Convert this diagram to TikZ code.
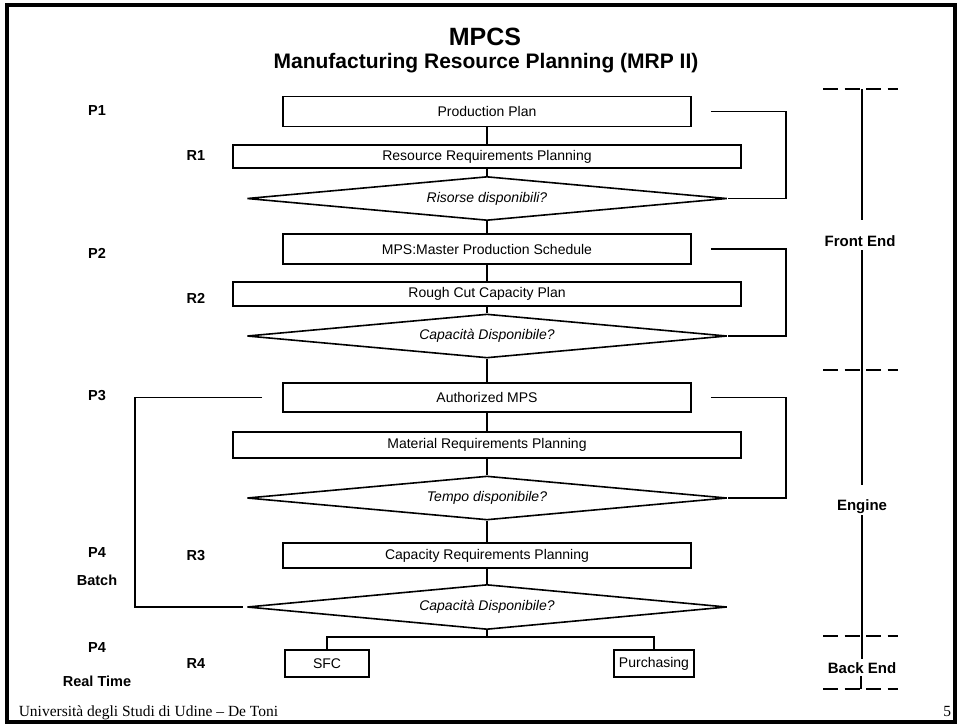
\documentclass[tikz,border=0pt]{standalone}
\usepackage{fontspec}
\setmainfont{Liberation Sans}
\newfontfamily\serifft{Liberation Serif}
\usetikzlibrary{shapes.geometric}
\begin{document}
\begin{tikzpicture}[x=1pt,y=-1pt,
  line width=1.6pt, line join=miter,
  proc/.style={draw, rectangle, inner sep=0pt, font=\fontsize{14}{16}\selectfont},
  wide/.style={proc, minimum width=508pt, minimum height=25pt},
  narrow/.style={proc, minimum width=408pt, minimum height=30pt},
  test/.style={draw, diamond, aspect=10.9, inner sep=0pt, minimum width=480pt,
    minimum height=44pt, font=\fontsize{14}{16}\selectfont\itshape},
  tag/.style={font=\fontsize{14.5}{16}\selectfont\bfseries},
  phase/.style={font=\fontsize{15}{17}\selectfont\bfseries},
  tick/.style={line width=2pt, dash pattern=on 15pt off 6.5pt},
  bar/.style={line width=1.5pt},
]
\useasboundingbox (0,0) rectangle (957,724);
% slide frame
\draw[line width=4pt] (7,4.5) rectangle (955,722);

% titles
\node[font=\fontsize{25}{28}\selectfont\bfseries] (title) at (485,37) {MPCS};
\node[font=\fontsize{21}{24}\selectfont\bfseries] (subtitle) at (486,63) {Manufacturing Resource Planning (MRP II)};

% main flow
\node[narrow] (pp) at (487,111.5) {Production Plan};
\node[wide, minimum height=23pt] (rrp) at (487,156.5) {Resource Requirements Planning};
\node[test] (d1) at (487,198.5) {Risorse disponibili?};
\node[narrow] (mps) at (487,249) {MPS:Master Production Schedule};
\node[wide, minimum height=24pt] (rccp) at (487,294) {Rough Cut Capacity Plan};
\node[test] (d2) at (487,336) {Capacità Disponibile?};
\node[narrow, minimum height=29pt] (amps) at (487,397.5) {Authorized MPS};
\node[wide, minimum height=26pt] (mrp) at (487,445) {Material Requirements Planning};
\node[test] (d3) at (487,498) {Tempo disponibile?};
\node[narrow, minimum height=25pt] (crp) at (487,555.5) {Capacity Requirements Planning};
\node[test, minimum height=45pt] (d4) at (487,607) {Capacità Disponibile?};
\node[proc, minimum width=84pt, minimum height=27pt] (sfc) at (327,663.5) {SFC};
\node[proc, minimum width=80pt, minimum height=27pt] (pur) at (654,663.5) {Purchasing};

\draw (pp) -- (rrp);
\draw (rrp) -- (d1);
\draw (d1) -- (mps);
\draw (mps) -- (rccp);
\draw (rccp) -- (d2);
\draw (d2) -- (amps);
\draw (amps) -- (mrp);
\draw (mrp) -- (d3);
\draw (d3) -- (crp);
\draw (crp) -- (d4);

% split towards shop floor and purchasing
\coordinate (br) at (487,637);
\draw (d4.south) -- (br);
\draw (sfc.north) |- (br) -| (pur.north);

% feedback loops
\coordinate (f1) at (786,111.5);
\coordinate (f2) at (786,249);
\coordinate (f3) at (786,397.5);
\coordinate (f4) at (135,397.5);
\draw ([xshift=19pt]pp.east) -- (f1) |- (d1.east);
\draw ([xshift=19pt]mps.east) -- (f2) |- (d2.east);
\draw ([xshift=19pt]amps.east) -- (f3) |- (d3.east);
\draw ([xshift=-20pt]amps.west) -- (f4) |- ([xshift=-3pt]d4.west);

% level tags
\node[tag] (p1) at (97,111) {P1};
\node[tag] (r1) at (196,156) {R1};
\node[tag] (p2) at (97,253) {P2};
\node[tag] (r2) at (196,298) {R2};
\node[tag] (p3) at (97,396) {P3};
\node[tag] (p4a) at (97,552) {P4};
\node[tag] (batch) at (97,580) {Batch};
\node[tag] (r3) at (196,556) {R3};
\node[tag] (p4b) at (97,647) {P4};
\node[tag] (rt) at (97,681) {Real Time};
\node[tag] (r4) at (196,663) {R4};

% phase scale
\foreach \y/\n in {89/t0, 370/t1, 636/t2, 689/t3}{
  \coordinate (\n l) at (823,\y);
  \coordinate (\n r) at (898,\y);
  \draw[tick] (\n l) -- (\n r);
}
\node[phase] (fe) at (860,241) {Front End};
\node[phase] (en) at (862,507) {Engine};
\node[phase] (be) at (862,668) {Back End};
\draw[bar] (862,89) -- (862,220);
\draw[bar] (862,250) -- (862,485);
\draw[bar] (862,515) -- (862,659);
\draw[bar] (861,676) -- (861,689);

% footer
\node[anchor=base west, inner sep=0pt, font=\serifft\fontsize{15.5}{17}\selectfont] (foot) at (18,716) {Università degli Studi di Udine – De Toni};
\node[anchor=base east, inner sep=0pt, font=\serifft\fontsize{15.5}{17}\selectfont] (page) at (952,716) {5};
\end{tikzpicture}
\end{document}
